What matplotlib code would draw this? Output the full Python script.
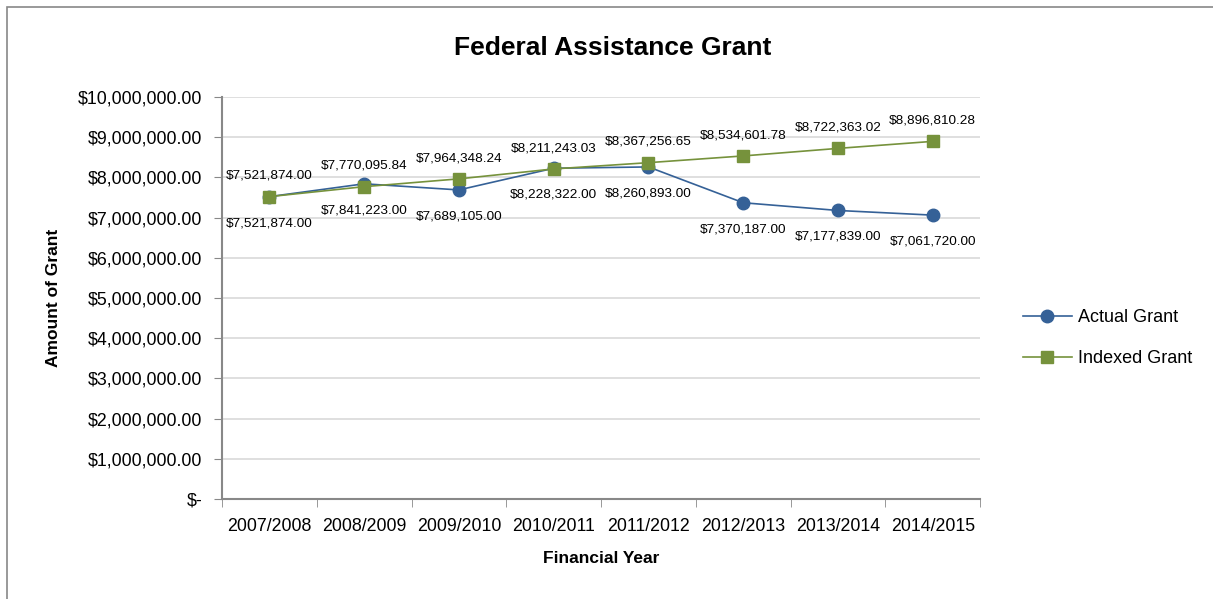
import matplotlib.pyplot as plt
from matplotlib.patches import Rectangle
from matplotlib.ticker import FuncFormatter

plt.rcParams['font.family'] = ['Liberation Sans', 'DejaVu Sans']

years = ['2007/2008', '2008/2009', '2009/2010', '2010/2011', '2011/2012',
         '2012/2013', '2013/2014', '2014/2015']
actual = [7521874.00, 7841223.00, 7689105.00, 8228322.00, 8260893.00,
          7370187.00, 7177839.00, 7061720.00]
indexed = [7521874.00, 7770095.84, 7964348.24, 8211243.03, 8367256.65,
           8534601.78, 8722363.02, 8896810.28]

blue = '#356197'
green = '#76923c'

fig = plt.figure(figsize=(12.13, 5.99), dpi=100)
ax = fig.add_axes([0.183, 0.167, 0.625, 0.671])

x = list(range(len(years)))
ax.plot(x, actual, color=blue, lw=1.2, marker='o', ms=9, label='Actual Grant', zorder=3)
ax.plot(x, indexed, color=green, lw=1.2, marker='s', ms=9, label='Indexed Grant', zorder=4)

# actual values labelled below the points, indexed values above
for i in x:
    ax.annotate('${:,.2f}'.format(actual[i]), (i, actual[i]), xytext=(0, -19),
                textcoords='offset points', ha='center', va='center', fontsize=9.7)
    ax.annotate('${:,.2f}'.format(indexed[i]), (i, indexed[i]), xytext=(0, 15),
                textcoords='offset points', ha='center', va='center', fontsize=9.7)

ax.set_xlim(-0.5, len(years) - 0.5)
ax.set_ylim(0, 10000000)
ax.set_yticks(range(0, 10000001, 1000000))
ax.yaxis.set_major_formatter(FuncFormatter(lambda v, p: '$-' if v == 0 else '${:,.2f}'.format(v)))
ax.set_xticks(x)
ax.set_xticklabels(years)
ax.set_xticks([i - 0.5 for i in range(len(years) + 1)], minor=True)
ax.tick_params(axis='x', which='major', length=0, pad=14, labelsize=12.8)
ax.tick_params(axis='x', which='minor', length=6, color='#888888', direction='out')
ax.tick_params(axis='y', length=6, color='#888888', labelsize=12.8, pad=8)

ax.grid(axis='y', color='#d9d9d9', lw=1.2)
ax.set_axisbelow(True)
for s in ['top', 'right']:
    ax.spines[s].set_visible(False)
for s in ['left', 'bottom']:
    ax.spines[s].set_color('#888888')
    ax.spines[s].set_linewidth(1.5)

ax.set_xlabel('Financial Year', fontsize=12.5, fontweight='bold', labelpad=11)
ax.set_ylabel('Amount of Grant', fontsize=12.5, fontweight='bold', labelpad=12)
fig.text(0.505, 0.92, 'Federal Assistance Grant', ha='center', va='center',
         fontsize=19, fontweight='bold')

leg = ax.legend(loc='center left', bbox_to_anchor=(1.035, 0.40), frameon=False,
                fontsize=13, handlelength=2.7, labelspacing=1.35, handletextpad=0.35)

fig.patches.append(Rectangle((0.006, -0.01), 1.0, 0.998, transform=fig.transFigure,
                             fill=False, edgecolor='#888888', lw=1.2))

fig.savefig('out.png', dpi=100)
